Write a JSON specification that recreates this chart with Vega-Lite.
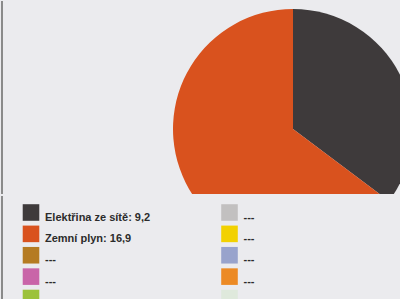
{
  "$schema": "https://vega.github.io/schema/vega-lite/v6.json",
  "background": "#ebebee",
  "padding": {"left": 1, "top": 0, "right": 0, "bottom": 0},
  "spacing": 0,
  "config": {"view": {"stroke": null}},
  "datasets": {
    "energy": [
      {"idx": 1, "source": "Elektřina ze sítě", "value": 9.2, "label": "Elektřina ze sítě: 9,2", "col": 0, "row": 0},
      {"idx": 2, "source": "Zemní plyn", "value": 16.9, "label": "Zemní plyn: 16,9", "col": 0, "row": 1},
      {"idx": 3, "source": "Položka 3", "value": null, "label": "---", "col": 0, "row": 2},
      {"idx": 4, "source": "Položka 4", "value": null, "label": "---", "col": 0, "row": 3},
      {"idx": 5, "source": "Položka 5", "value": null, "label": "---", "col": 0, "row": 4},
      {"idx": 6, "source": "Položka 6", "value": null, "label": "---", "col": 1, "row": 0},
      {"idx": 7, "source": "Položka 7", "value": null, "label": "---", "col": 1, "row": 1},
      {"idx": 8, "source": "Položka 8", "value": null, "label": "---", "col": 1, "row": 2},
      {"idx": 9, "source": "Položka 9", "value": null, "label": "---", "col": 1, "row": 3},
      {"idx": 10, "source": "Položka 10", "value": null, "label": "---", "col": 1, "row": 4}
    ],
    "frame": [{"edge": 0}]
  },
  "vconcat": [
    {
      "width": 398,
      "height": 193,
      "layer": [
        {
          "data": {"name": "energy"},
          "transform": [{"filter": "datum.value > 0"}],
          "mark": {"type": "arc", "radius": 120, "clip": true, "xOffset": 92, "yOffset": 31.5},
          "encoding": {
            "theta": {"field": "value", "type": "quantitative", "stack": true},
            "order": {"field": "idx", "type": "quantitative"},
            "color": {
              "field": "source",
              "type": "nominal",
              "legend": null,
              "scale": {
                "domain": ["Elektřina ze sítě", "Zemní plyn", "Položka 3", "Položka 4", "Položka 5", "Položka 6", "Položka 7", "Položka 8", "Položka 9", "Položka 10"],
                "range": ["#3e3a3b", "#d9521e", "#b57b22", "#c965a8", "#9cc23a", "#c2c0c0", "#f2d100", "#98a3cc", "#ec8a25", "#dfe9dc"]
              }
            }
          }
        },
        {
          "data": {"name": "frame"},
          "mark": {"type": "rule", "color": "#8a8a8a", "strokeWidth": 2},
          "encoding": {
            "x": {"field": "edge", "type": "quantitative", "axis": null, "scale": {"domain": [0, 1], "range": [0, 398]}}
          }
        }
      ]
    },
    {
      "width": 398,
      "height": 106,
      "layer": [
        {
          "data": {"name": "frame"},
          "mark": {"type": "rule", "color": "#8a8a8a", "strokeWidth": 2},
          "encoding": {
            "x": {"field": "edge", "type": "quantitative", "axis": null, "scale": {"domain": [0, 1], "range": [0, 398]}}
          }
        },
        {
          "data": {"name": "energy"},
          "layer": [
            {
              "mark": {"type": "point", "shape": "square", "filled": true, "opacity": 1, "size": 275, "strokeWidth": 0},
              "encoding": {
                "x": {"field": "col", "type": "quantitative", "axis": null, "scale": {"domain": [0, 1], "range": [29, 227.5]}},
                "y": {"field": "row", "type": "quantitative", "axis": null, "scale": {"domain": [0, 4], "range": [16.5, 102]}},
                "color": {"field": "source", "type": "nominal", "legend": null}
              }
            },
            {
              "mark": {"type": "text", "align": "left", "baseline": "alphabetic", "dx": 14, "dy": 8, "font": "Liberation Sans", "fontWeight": "bold", "fontSize": 11, "color": "#2b2b2b"},
              "encoding": {
                "x": {"field": "col", "type": "quantitative", "axis": null, "scale": {"domain": [0, 1], "range": [29, 227.5]}},
                "y": {"field": "row", "type": "quantitative", "axis": null, "scale": {"domain": [0, 4], "range": [16.5, 102]}},
                "text": {"field": "label", "type": "nominal"}
              }
            }
          ],
          "resolve": {"scale": {"x": "shared"}}
        }
      ],
      "resolve": {"scale": {"x": "independent"}}
    }
  ]
}
